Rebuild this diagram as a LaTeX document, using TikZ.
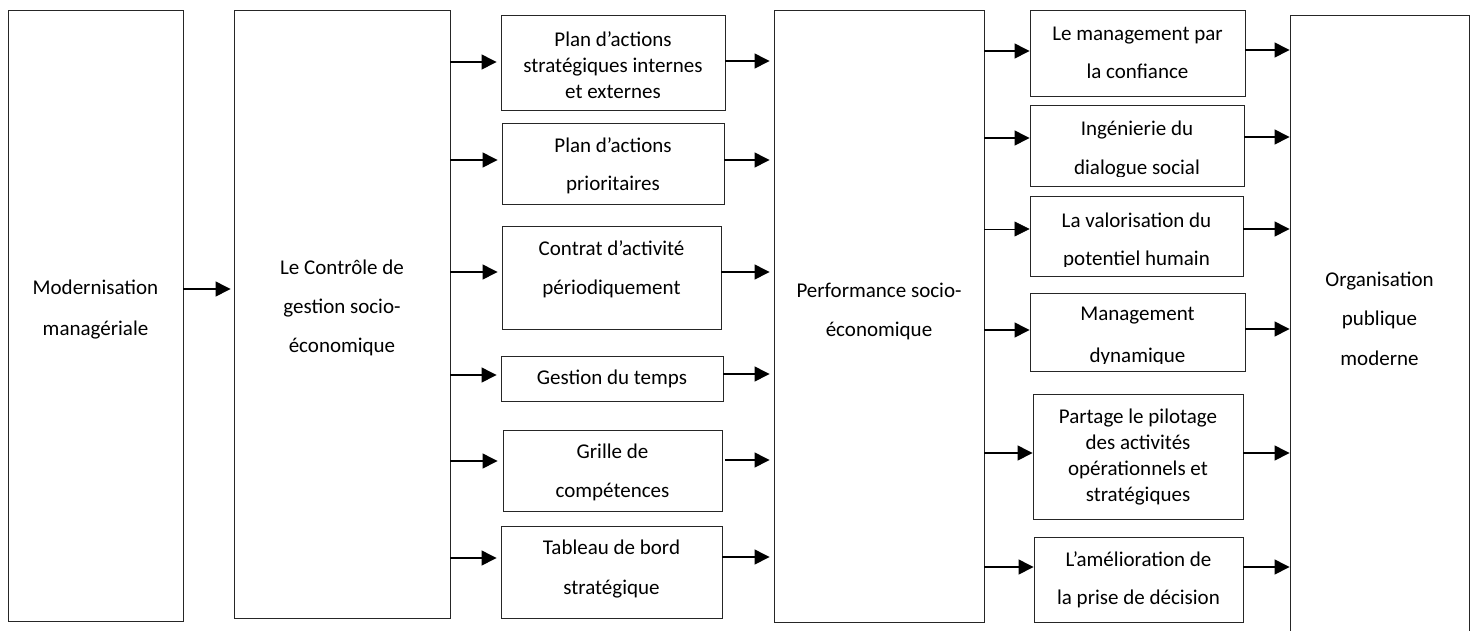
\documentclass[tikz,border=0pt]{standalone}
\usepackage{fontspec}
\setmainfont{Carlito}
\usetikzlibrary{arrows.meta,fit}
\begin{document}
\begin{tikzpicture}[x=1pt,y=-1pt,
  box/.style={draw=black!85, line width=0.9pt, inner sep=0pt},
  txt/.style={font=\fontsize{21}{#1}\selectfont, align=center, inner sep=0pt},
  txt/.default=39,
  arr/.style={-{Triangle[length=15pt,width=15pt]}, line width=1.3pt},
  thinarr/.style={-{Triangle[length=15pt,width=15pt]}, line width=0.7pt}]
\useasboundingbox[fill=white] (0,0) rectangle (1476,630);

% column 1
\node[box, fit={(8,10) (183,621)}] (A) {};
\node[txt=41] (At) at (A |- 0,309.5) {Modernisation\\managériale};

% column 2
\node[box, fit={(234,10) (450,618)}] (B) {};
\node[txt] (Bt) at (B |- 0,308) {Le Contrôle de\\gestion socio-\\économique};

% column 3
\node[box, fit={(501,15) (725,110)}] (C1) {};
\node[txt=26] (C1t) at (C1 |- 0,65) {Plan d’actions\\stratégiques internes\\et externes};
\node[box, fit={(502,123) (724,204)}] (C2) {};
\node[txt=38] (C2t) at (C2 |- 0,166) {Plan d’actions\\prioritaires};
\node[box, fit={(502,226) (721,329)}] (C3) {};
\node[txt] (C3t) at (C3 |- 0,269.5) {Contrat d’activité\\périodiquement};
\node[box, fit={(501,356) (723,401)}] (C4) {};
\node[txt] (C4t) at (C4 |- 0,379) {Gestion du temps};
\node[box, fit={(503,430) (722,511)}] (C5) {};
\node[txt] (C5t) at (C5 |- 0,472.5) {Grille de\\compétences};
\node[box, fit={(501,526) (722,618)}] (C6) {};
\node[txt=40] (C6t) at (C6 |- 0,569) {Tableau de bord\\stratégique};

% column 4
\node[box, fit={(774,10) (984,622)}] (D) {};
\node[txt] (Dt) at (D |- 0,311.5) {Performance socio-\\économique};

% column 5
\node[box, fit={(1030,10) (1245,96)}] (E1) {};
\node[txt=38] (E1t) at (E1 |- 0,53) {Le management par\\la confiance};
\node[box, fit={(1030,105) (1244,186)}] (E2) {};
\node[txt, anchor=base] (E2ta) at (E2 |- 0,135) {Ingénierie du};
\begin{scope}
\clip (1031,140) rectangle (1243,176);
\node[txt, anchor=base] (E2tb) at (E2 |- 0,174) {dialogue social};
\end{scope}
\node[box, fit={(1030,196) (1243,276)}] (E3) {};
\node[txt, anchor=base] (E3ta) at (E3 |- 0,227) {La valorisation du};
\begin{scope}
\clip (1031,232) rectangle (1242,266);
\node[txt, anchor=base] (E3tb) at (E3 |- 0,265) {potentiel humain};
\end{scope}
\node[box, fit={(1030,293) (1245,371)}] (E4) {};
\node[txt, anchor=base] (E4ta) at (E4 |- 0,320) {Management};
\begin{scope}
\clip (1031,326) rectangle (1244,363);
\node[txt, anchor=base] (E4tb) at (E4 |- 0,362) {dynamique};
\end{scope}
\node[box, fit={(1033,394) (1243,519)}] (E5) {};
\node[txt=26] (E5t) at (E5 |- 0,457) {Partage le pilotage\\des activités\\opérationnels et\\stratégiques};
\node[box, fit={(1034,537) (1243,622)}] (E6) {};
\node[txt=38] (E6t) at (E6 |- 0,580) {L’amélioration de\\la prise de décision};

% column 6
\node[box, fit={(1290,15) (1469,650)}] (F) {};
\node[txt=39.5] (Ft) at (F |- 0,318.5) {Organisation\\publique\\moderne};

% arrows
\draw[arr, shorten >=3pt] (A.east |- 0,289) -- (B.west |- 0,289);

\draw[arr, shorten >=4pt] (B.east |- 0,62)  -- (C1.west |- 0,62);
\draw[arr, shorten >=4pt] (B.east |- 0,160) -- (C2.west |- 0,160);
\draw[arr, shorten >=4pt] (B.east |- 0,272) -- (C3.west |- 0,272);
\draw[arr, shorten >=4pt] (B.east |- 0,375) -- (C4.west |- 0,375);
\draw[arr, shorten >=5pt] (B.east |- 0,461) -- (C5.west |- 0,461);
\draw[arr, shorten >=4pt] (B.east |- 0,558) -- (C6.west |- 0,558);

\draw[arr, shorten >=4pt] (C1.east |- 0,61)  -- (D.west |- 0,61);
\draw[arr, shorten >=4pt] (C2.east |- 0,160) -- (D.west |- 0,160);
\draw[arr, shorten >=4pt] (C3.east |- 0,272) -- (D.west |- 0,272);
\draw[arr, shorten >=4pt] (C4.east |- 0,374) -- (D.west |- 0,374);
\draw[arr, shorten >=4pt, shorten <=3pt] (C5.east |- 0,460) -- (D.west |- 0,460);
\draw[arr, shorten >=4pt] (C6.east |- 0,557) -- (D.west |- 0,557);

\draw[arr] (D.east |- 0,51)  -- (E1.west |- 0,51);
\draw[arr] (D.east |- 0,138) -- (E2.west |- 0,138);
\draw[thinarr] (D.east |- 0,229) -- (E3.west |- 0,229);
\draw[arr] (D.east |- 0,330) -- (E4.west |- 0,330);
\draw[arr] (D.east |- 0,453) -- (E5.west |- 0,453);
\draw[arr] (D.east |- 0,567) -- (E6.west |- 0,567);

\draw[arr] (E1.east |- 0,50)  -- (F.west |- 0,50);
\draw[arr] (E2.east |- 0,137) -- (F.west |- 0,137);
\draw[arr] (E3.east |- 0,229) -- (F.west |- 0,229);
\draw[arr] (E4.east |- 0,329) -- (F.west |- 0,329);
\draw[arr] (E5.east |- 0,453) -- (F.west |- 0,453);
\draw[arr] (E6.east |- 0,567) -- (F.west |- 0,567);
\end{tikzpicture}
\end{document}
